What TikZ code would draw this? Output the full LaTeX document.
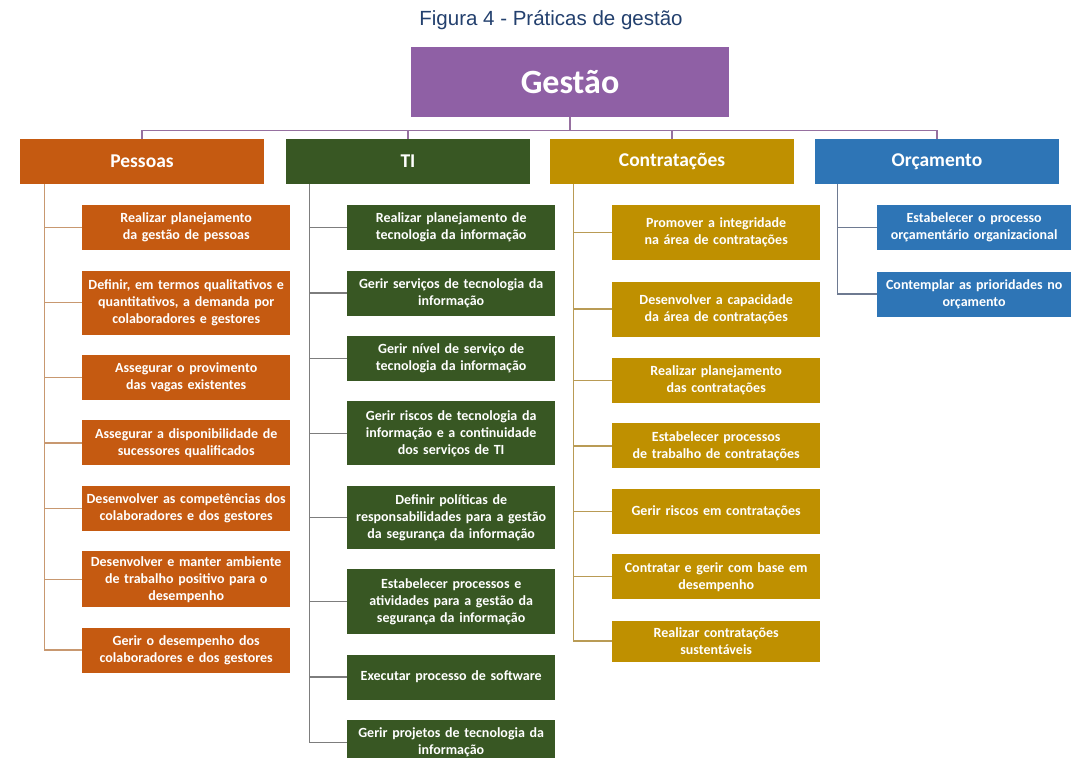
\documentclass[tikz,border=0pt]{standalone}
\usepackage{fontspec}
\setmainfont{Carlito}
\newfontfamily\titlefont{Liberation Sans}
\usetikzlibrary{positioning}

\definecolor{gcol}{RGB}{143,96,165}
\definecolor{glin}{RGB}{150,112,160}
\definecolor{pcol}{RGB}{197,90,17}
\definecolor{plin}{RGB}{200,152,112}
\definecolor{tcol}{RGB}{56,87,35}
\definecolor{tlin}{RGB}{125,125,125}
\definecolor{ccol}{RGB}{191,144,0}
\definecolor{clin}{RGB}{185,155,85}
\definecolor{ocol}{RGB}{46,117,182}
\definecolor{olin}{RGB}{110,122,145}
\definecolor{ttl}{RGB}{35,64,110}

\begin{document}
\begin{tikzpicture}[x=1pt, y=-1pt,
    item/.style={fill=#1, text=white, align=center,
      font=\bfseries\fontsize{14}{17}\selectfont,
      text width=204pt, inner xsep=2pt, inner ysep=3pt, minimum height=45pt},
    hdr/.style={fill=#1, text=white, font=\bfseries\fontsize{19.5}{22}\selectfont,
      minimum width=244pt, minimum height=45pt},
    link/.style={draw=#1, line width=1.3pt}
  ]
    \path[fill=white, use as bounding box] (0,0) rectangle (1072,758);

    \node[text=ttl, font=\titlefont\fontsize{20.5}{24}\selectfont] (ttl) at (551,20) {Figura 4 - Práticas de gestão};
    \node[fill=gcol, text=white, font=\bfseries\fontsize{34}{38}\selectfont,
      minimum width=318pt, minimum height=70pt] (g) at (570,82) {Gestão};

    % areas
    \node[hdr=pcol] (p) at (142,161.5) {Pessoas};
    \node[hdr=tcol] (t) at (408,161.5) {TI};
    \node[hdr=ccol] (c) at (672,161.5) {Contratações};
    \node[hdr=ocol] (o) at (937,161.5) {Orçamento};

    \draw[link=glin] (g.south) -- ++(0,13) -| (p.north);
    \draw[link=glin] (g.south) -- ++(0,13) -| (t.north);
    \draw[link=glin] (g.south) -- ++(0,13) -| (c.north);
    \draw[link=glin] (g.south) -- ++(0,13) -| (o.north);

    % Pessoas
    \node[item=pcol, anchor=north west] (p1) at (82,205) {Realizar planejamento\\da gestão de pessoas};
    \node[item=pcol, minimum height=64pt, below=20pt of p1] (p2) {Definir, em termos qualitativos e\\quantitativos, a demanda por\\colaboradores e gestores};
    \node[item=pcol, below=20pt of p2] (p3) {Assegurar o provimento\\das vagas existentes};
    \node[item=pcol, below=20pt of p3] (p4) {Assegurar a disponibilidade de\\sucessores qualificados};
    \node[item=pcol, below=20pt of p4] (p5) {Desenvolver as competências dos\\colaboradores e dos gestores};
    \node[item=pcol, minimum height=56pt, below=20pt of p5] (p6) {Desenvolver e manter ambiente\\de trabalho positivo para o\\desempenho};
    \node[item=pcol, below=20pt of p6] (p7) {Gerir o desempenho dos\\colaboradores e dos gestores};

    \coordinate (pa) at ([xshift=25pt]p.south west);
    \draw[link=plin] (pa) |- (p1.west) (pa) |- (p2.west) (pa) |- (p3.west)
      (pa) |- (p4.west) (pa) |- (p5.west) (pa) |- (p6.west) (pa) |- (p7.west);

    % TI
    \node[item=tcol, anchor=north west] (t1) at (347,205) {Realizar planejamento de\\tecnologia da informação};
    \node[item=tcol, below=20pt of t1] (t2) {Gerir serviços de tecnologia da\\informação};
    \node[item=tcol, below=20pt of t2] (t3) {Gerir nível de serviço de\\tecnologia da informação};
    \node[item=tcol, minimum height=64pt, below=20pt of t3] (t4) {Gerir riscos de tecnologia da\\informação e a continuidade\\dos serviços de TI};
    \node[item=tcol, minimum height=63pt, below=20pt of t4] (t5) {Definir políticas de\\responsabilidades para a gestão\\da segurança da informação};
    \node[item=tcol, minimum height=65pt, below=20pt of t5] (t6) {Estabelecer processos e\\atividades para a gestão da\\segurança da informação};
    \node[item=tcol, below=20pt of t6] (t7) {Executar processo de software};
    \node[item=tcol, below=20pt of t7] (t8) {Gerir projetos de tecnologia da\\informação};

    \coordinate (ta) at ([xshift=24pt]t.south west);
    \draw[link=tlin] (ta) |- (t1.west) (ta) |- (t2.west) (ta) |- (t3.west) (ta) |- (t4.west)
      (ta) |- (t5.west) (ta) |- (t6.west) (ta) |- (t7.west) (ta) |- (t8.west);

    % Contratações
    \node[item=ccol, minimum height=55pt, anchor=north west] (c1) at (612,205) {Promover a integridade\\na área de contratações};
    \node[item=ccol, minimum height=55pt, below=21pt of c1] (c2) {Desenvolver a capacidade\\da área de contratações};
    \node[item=ccol, below=21pt of c2] (c3) {Realizar planejamento\\das contratações};
    \node[item=ccol, below=20pt of c3] (c4) {Estabelecer processos\\de trabalho de contratações};
    \node[item=ccol, below=20pt of c4] (c5) {Gerir riscos em contratações};
    \node[item=ccol, below=20pt of c5] (c6) {Contratar e gerir com base em\\desempenho};
    \node[item=ccol, minimum height=41pt, below=21pt of c6] (c7) {Realizar contratações\\sustentáveis};

    \coordinate (ca) at ([xshift=24pt]c.south west);
    \draw[link=clin] (ca) |- (c1.west) (ca) |- (c2.west) (ca) |- (c3.west) (ca) |- (c4.west)
      (ca) |- (c5.west) (ca) |- (c6.west) (ca) |- (c7.west);

    % Orçamento
    \node[item=ocol, text width=190pt, anchor=north west] (o1) at (877,205) {Estabelecer o processo\\orçamentário organizacional};
    \node[item=ocol, text width=190pt, below=21pt of o1] (o2) {Contemplar as prioridades no\\orçamento};

    \coordinate (oa) at ([xshift=23pt]o.south west);
    \draw[link=olin] (oa) |- (o1.west) (oa) |- (o2.west);
  \end{tikzpicture}
\end{document}
